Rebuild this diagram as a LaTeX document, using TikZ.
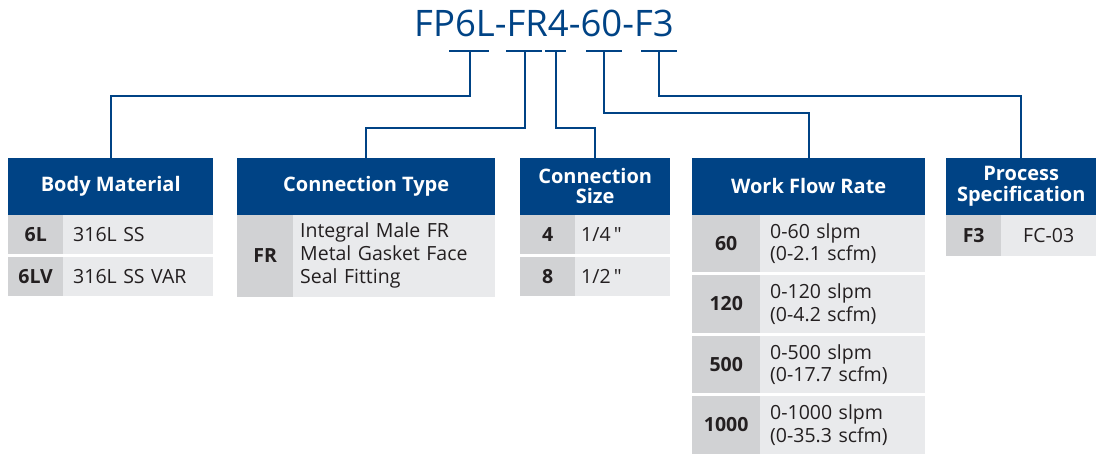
\documentclass[tikz,border=0pt]{standalone}
\usepackage{fontspec}
\setmainfont{Open Sans}
\usepackage{tikz}
\usetikzlibrary{positioning}

\definecolor{brandblue}{RGB}{0,67,133}
\definecolor{keygray}{RGB}{209,210,212}
\definecolor{valgray}{RGB}{233,234,236}
\definecolor{inkgray}{RGB}{35,31,32}

\tikzset{
  conn/.style={draw=brandblue, line width=2pt},
  hdr/.style={fill=brandblue, text=white, anchor=north west, inner sep=0pt,
    align=center, minimum height=56.5pt,
    font=\bfseries\fontsize{20}{21}\selectfont},
  keycell/.style={fill=keygray, text=inkgray, anchor=north west, inner sep=0pt,
    font=\bfseries\fontsize{19.5}{22}\selectfont},
  valcell/.style={fill=valgray, text=inkgray, anchor=north west, inner ysep=0pt,
    align=left, font=\fontsize{19.5}{22.5}\selectfont}
}

\begin{document}
\begin{tikzpicture}[x=1pt,y=-1pt]
    \useasboundingbox (0,0) rectangle (1096,454);
    \node[anchor=base, text=brandblue, font=\fontsize{36.5}{38}\selectfont] (code) at (544,36.7) {FP6L-FR4-60-F3};

    % underlines below the code
    \draw[conn] (449,51) -- (489,51);
    \draw[conn] (506,51) -- (542,51);
    \draw[conn] (545,51) -- (566,51);
    \draw[conn] (586,51) -- (622,51);
    \draw[conn] (641,51) -- (677,51);
    \coordinate (u1) at (470,51);
    \coordinate (u2) at (525,51);
    \coordinate (u3) at (555.5,51);
    \coordinate (u4) at (604,51);
    \coordinate (u5) at (659,51);

    % body material
    \node[hdr, minimum width=205pt] (bm) at (8,158) {Body Material};
    \node[keycell, minimum width=55pt, minimum height=39.5pt] (bm1k) at (8,214.5) {6L};
    \node[valcell, text width=130pt, inner xsep=10pt, minimum height=39.5pt] (bm1v) at (63,214.5) {316L SS};
    \node[keycell, minimum width=55pt, minimum height=39.5pt] (bm2k) at (8,256.5) {6LV};
    \node[valcell, text width=130pt, inner xsep=10pt, minimum height=39.5pt] (bm2v) at (63,256.5) {316L SS VAR};

    % connection type
    \node[hdr, minimum width=258pt] (ct) at (237,158) {Connection Type};
    \node[keycell, minimum width=56pt, minimum height=82pt] (ct1k) at (237,214.5) {FR};
    \node[valcell, text width=188pt, inner xsep=7pt, minimum height=82pt, font=\fontsize{19.5}{23}\selectfont] (ct1v) at (293,214.5)
      {Integral Male FR\\Metal Gasket Face\\Seal Fitting};

    % connection size
    \node[hdr, minimum width=150pt, font=\bfseries\fontsize{20}{20}\selectfont] (cs) at (520,158) {Connection\\Size};
    \node[keycell, minimum width=55pt, minimum height=39.5pt] (cs1k) at (520,214.5) {4};
    \node[valcell, text width=83pt, inner xsep=6pt, minimum height=39.5pt] (cs1v) at (575,214.5) {1/4\,\textquotedbl};
    \node[keycell, minimum width=55pt, minimum height=39.5pt] (cs2k) at (520,256.5) {8};
    \node[valcell, text width=83pt, inner xsep=6pt, minimum height=39.5pt] (cs2v) at (575,256.5) {1/2\,\textquotedbl};

    % work flow rate
    \node[hdr, minimum width=233pt] (wf) at (692,158) {Work Flow Rate};
    \foreach \k/\lo/\hi [count=\i from 0] in {60/0-60 slpm/0-2.1 scfm, 120/0-120 slpm/0-4.2 scfm,
        500/0-500 slpm/0-17.7 scfm, 1000/0-1000 slpm/0-35.3 scfm} {
      \node[keycell, minimum width=68pt, minimum height=57.5pt] (wf\i k) at (692,214.5+60.5*\i) {\k};
      \node[valcell, text width=145pt, inner xsep=10pt, minimum height=57.5pt] (wf\i v) at (760,214.5+60.5*\i) {\lo\\(\hi)};
    }

    % process specification
    \node[hdr, minimum width=150pt, font=\bfseries\fontsize{20}{21}\selectfont] (ps) at (946,158) {Process\\Specification};
    \node[keycell, minimum width=55pt, minimum height=41.5pt] (ps1k) at (946,214.5) {F3};
    \node[valcell, minimum width=95pt, inner xsep=0pt, align=center, minimum height=41.5pt] (ps1v) at (1001,214.5) {FC-03};

    % leaders from the code to the tables
    \draw[conn] (u1) -- ++(0,45) -| (bm.north);
    \draw[conn] (u2) -- ++(0,77) -| (ct.north);
    \draw[conn] (u3) -- ++(0,77) -| (cs.north);
    \draw[conn] (u4) -- ++(0,62) -| (wf.north);
    \draw[conn] (u5) -- ++(0,45) -| (ps.north);
\end{tikzpicture}
\end{document}
